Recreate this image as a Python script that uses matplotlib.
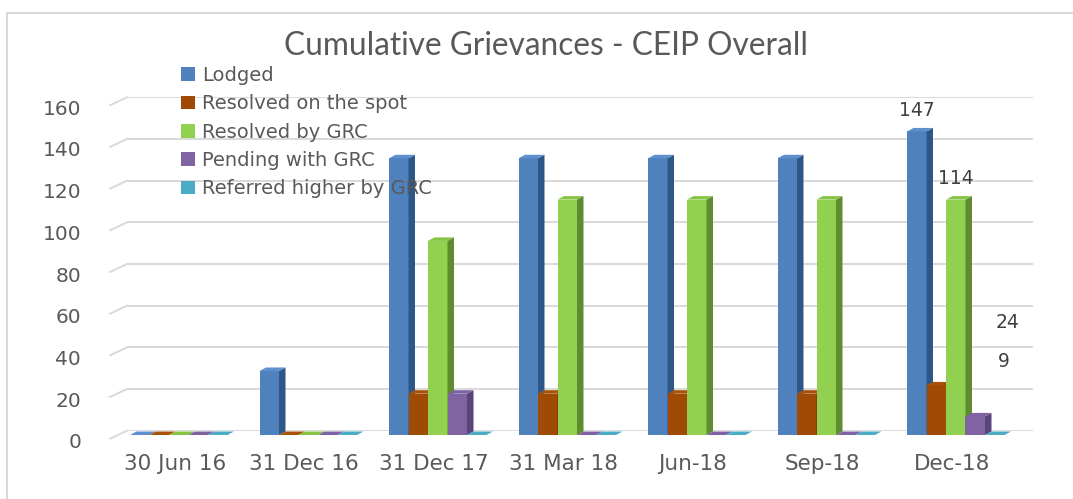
import matplotlib
matplotlib.use("Agg")
import matplotlib.pyplot as plt
from matplotlib.patches import Patch, Polygon, Rectangle
from matplotlib.transforms import ScaledTranslation

# ---------------- data ----------------
categories = ["30 Jun 16", "31 Dec 16", "31 Dec 17", "31 Mar 18", "Jun-18", "Sep-18", "Dec-18"]
series_names = ["Lodged", "Resolved on the spot", "Resolved by GRC",
                "Pending with GRC", "Referred higher by GRC"]
lodged = [0, 31, 134, 134, 134, 134, 147]
resolved_spot = [0, 0, 20, 20, 20, 20, 24]
resolved_grc = [0, 0, 94, 114, 114, 114, 114]
pending_grc = [0, 0, 20, 0, 0, 0, 9]
referred_higher = [0, 0, 0, 0, 0, 0, 0]
yticks = [0, 20, 40, 60, 80, 100, 120, 140, 160]
title = "Cumulative Grievances - CEIP Overall"

# ---------------- styles ----------------
front_cols = ["#4F81BD", "#A04B05", "#92D050", "#8064A2", "#4BACC6"]
side_cols = ["#2E5686", "#6E3300", "#5F8C2E", "#5A4479", "#2F8098"]
top_cols = ["#5E90CF", "#A85208", "#86C443", "#7E62A4", "#4BACC6"]
txt = "#595959"

W, H = 1073, 499
fig = plt.figure(figsize=(W / 100, H / 100), dpi=100)

def fx(px):
    return px / W

def fy(py_from_top):
    return 1 - py_from_top / H

spacing_px = 129.5
c0_px = 178.75
xl, xr = 127, 1033
xlim = ((xl - c0_px) / spacing_px, (xr - c0_px) / spacing_px)

# back wall axes (gridlines, ticks)
g0, g160 = 430.7, 97.3
ax = fig.add_axes([fx(xl), 1 - g0 / H, (xr - xl) / W, (g0 - g160) / H])
ax.set_xlim(*xlim)
ax.set_ylim(0, 160)
for s in ax.spines.values():
    s.set_visible(False)
ax.set_yticks(yticks)
ax.set_yticklabels([str(v) for v in yticks], fontsize=14.5, color=txt, family="DejaVu Sans")
ax.tick_params(axis="y", length=0, pad=33)
ax.yaxis.grid(True, color="#D9D9D9", lw=1.4)
ax.set_axisbelow(True)
for lab in ax.get_yticklabels():
    lab.set_transform(lab.get_transform() + ScaledTranslation(0, -10 / 100, fig.dpi_scale_trans))
ax.set_xticks(range(len(categories)))
ax.set_xticklabels(categories, fontsize=15.5, color=txt, family="DejaVu Sans")
ax.tick_params(axis="x", length=0, pad=17)
for lab in ax.get_xticklabels():
    lab.set_transform(lab.get_transform() + ScaledTranslation(-4 / 100, 0, fig.dpi_scale_trans))
px_per_unit = (g0 - g160) / 160
for v in yticks:
    ax.plot([-(17 / (xr - xl)), 0], [v - 8 / px_per_unit, v], transform=ax.get_yaxis_transform(),
            color="#D9D9D9", lw=1.4, clip_on=False)

# bar axes (front plane)
b0 = 435.0
bscale = 2.065
ax2 = fig.add_axes([fx(xl), 1 - b0 / H, (xr - xl) / W, 160 * bscale / H])
ax2.set_xlim(*xlim)
ax2.set_ylim(0, 160)
ax2.axis("off")
ax2.patch.set_alpha(0)

series = [lodged, resolved_spot, resolved_grc, pending_grc, referred_higher]
bw = 19.5 / spacing_px
dx = 6.5 / spacing_px
dy = 3.5 / bscale
positions = {}
for j, vals in enumerate(series):
    xs = [i + (j - 2) * bw for i in range(len(categories))]
    bars = ax2.bar(xs, vals, width=bw, color=front_cols[j], lw=0, zorder=3 + j)
    positions[j] = xs
    for rect in bars:
        x0 = rect.get_x()
        x1 = x0 + rect.get_width()
        v = rect.get_height()
        side = Polygon([(x1, 0), (x1 + dx, dy), (x1 + dx, v + dy), (x1, v)], closed=True,
                       fc=side_cols[j], ec="none", zorder=3 + j)
        top = Polygon([(x0, v), (x1, v), (x1 + dx, v + dy), (x0 + dx, v + dy)], closed=True,
                      fc=top_cols[j], ec="none", zorder=3 + j)
        ax2.add_patch(side)
        ax2.add_patch(top)

# data labels (last category)
last = len(categories) - 1
label_offsets = {0: (0, 21), 2: (0, 21), 1: (71.5, 62.7), 3: (28.75, 54.7)}
for j, (ox, oy) in label_offsets.items():
    v = series[j][last]
    ax2.annotate(str(v), (positions[j][last], v), xytext=(ox, oy), textcoords="offset pixels",
                 ha="center", va="center", fontsize=13.5, color="#404040",
                 family="DejaVu Sans", zorder=20)

# legend
handles = [Patch(fc=c, ec="none") for c in front_cols]
leg = fig.legend(handles, series_names, loc="upper left", bbox_to_anchor=(fx(181), fy(66)),
                 frameon=False, handlelength=0.72, handleheight=0.72,
                 handletextpad=0.35, labelspacing=0.48, borderpad=0, borderaxespad=0,
                 prop={"family": "DejaVu Sans", "size": 14})
for t in leg.get_texts():
    t.set_color(txt)

# title
fig.text(fx(546), fy(46), title, ha="center", va="center", fontsize=22.8, color=txt, family="Lato")

# chart area border
fig.add_artist(Rectangle((fx(7), -0.1), 1.2, fy(13) + 0.1, transform=fig.transFigure,
                         fill=False, ec="#D9D9D9", lw=1.5))

fig.savefig("out.png", dpi=100)
